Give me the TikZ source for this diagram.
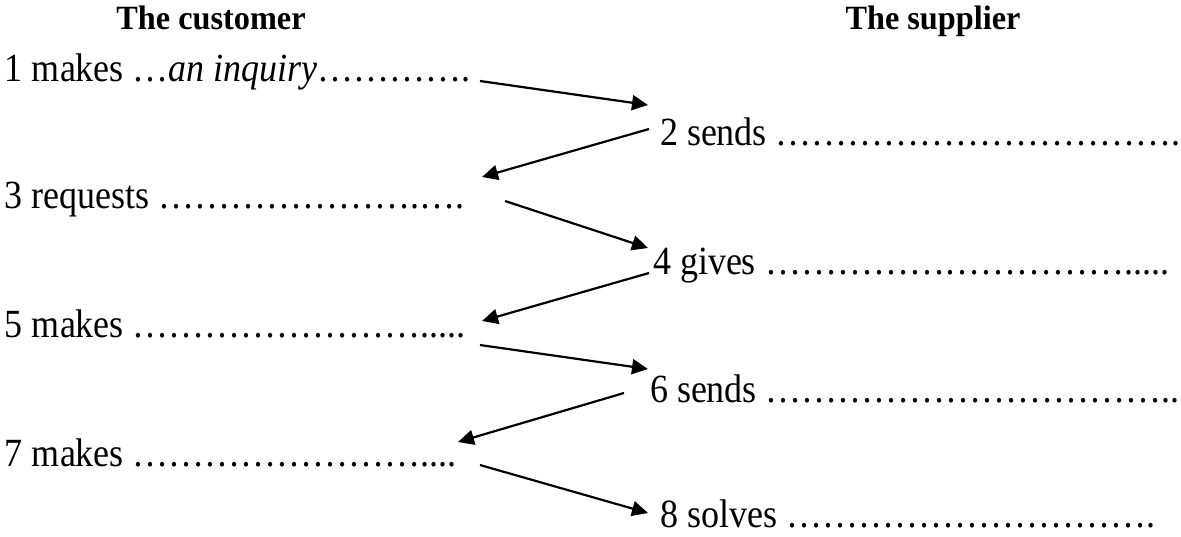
\documentclass[tikz,border=0pt]{standalone}
\usepackage{fontspec}
\setmainfont{Liberation Serif}
\newfontfamily\bodyfont{Liberation Serif}[FakeStretch=0.9]
\newfontfamily\headfont{Liberation Serif}[FakeStretch=0.95]
\usetikzlibrary{arrows.meta}
\tikzset{
  body/.style={anchor=base west, inner sep=0pt, outer sep=0pt, font=\bodyfont\fontsize{40}{44}\selectfont},
  head/.style={anchor=base, inner sep=0pt, outer sep=0pt, font=\headfont\fontsize{34}{38}\selectfont\bfseries},
  arr/.style={line width=2.2pt, -{Triangle[length=16pt,width=15pt]}}
}
\begin{document}
\begin{tikzpicture}[x=1pt,y=-1pt]
\useasboundingbox (0,0) rectangle (1181,536);
\node[head] (hc) at (211,29) {The customer};
\node[head] (hs) at (933,29) {The supplier};
\node[body] (t1) at (5,81) {1 makes …\textit{an inquiry}………….};
\node[body] (t2) at (660,145) {2 sends …………………………….};
\node[body] (t3) at (5,208) {3 requests ………………….….};
\node[body] (t4) at (653,274) {4 gives ………………………….....};
\node[body] (t5) at (5,337) {5 makes …………………….....};
\node[body] (t6) at (650,402) {6 sends ……………………………..};
\node[body] (t7) at (5,466) {7 makes ……………………....};
\node[body] (t8) at (660,527) {8 solves ………………………….};
\draw[arr] ([shift={(475,0)}]t1.base west) -- ([shift={(-12,-40)}]t2.base west);
\draw[arr] ([shift={(-11,-16)}]t2.base west) -- ([shift={(477,-31)}]t3.base west);
\draw[arr] ([shift={(500,-7)}]t3.base west) -- ([shift={(-5,-26)}]t4.base west);
\draw[arr] ([shift={(-4,-1)}]t4.base west) -- ([shift={(477,-16)}]t5.base west);
\draw[arr] ([shift={(475,8)}]t5.base west) -- ([shift={(-2,-33)}]t6.base west);
\draw[arr] ([shift={(-26,-9)}]t6.base west) -- ([shift={(453,-24)}]t7.base west);
\draw[arr] ([shift={(475,-1)}]t7.base west) -- ([shift={(-12,-14)}]t8.base west);
\end{tikzpicture}
\end{document}
